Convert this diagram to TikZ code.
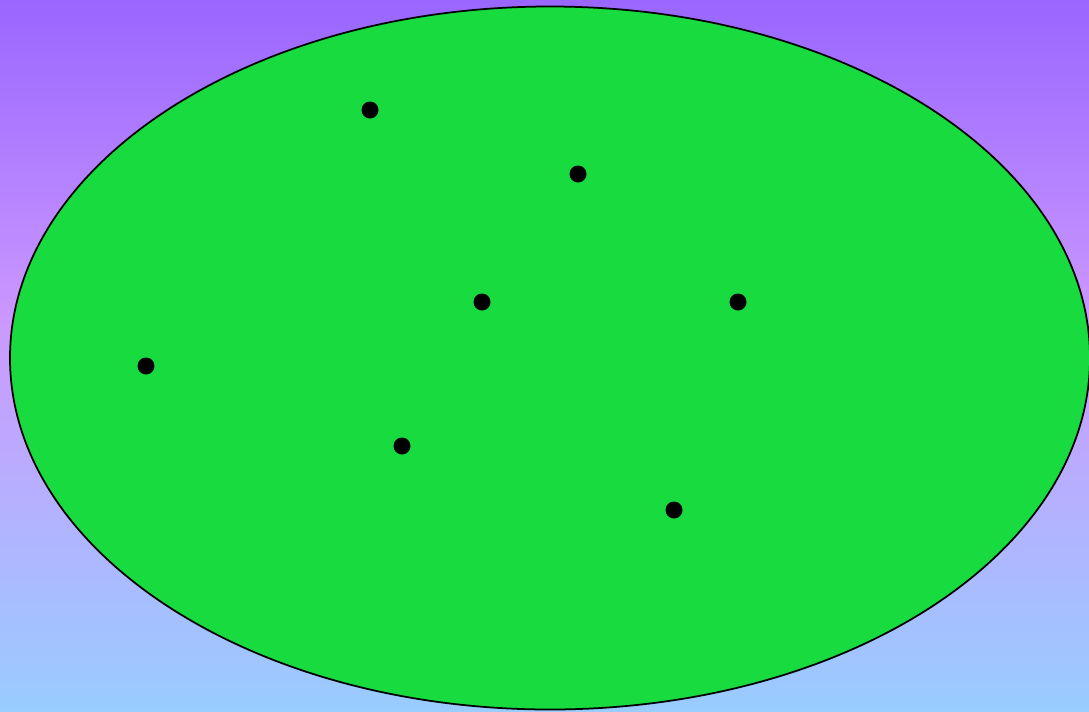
\documentclass[tikz,border=0pt]{standalone}
\usetikzlibrary{positioning}
\definecolor{skytop}{HTML}{9966FF}
\definecolor{skymid}{HTML}{CC99FF}
\definecolor{skybot}{HTML}{99CCFF}
\definecolor{field}{HTML}{18DC3F}
\pgfdeclareverticalshading{sky}{100bp}{color(0bp)=(skybot); color(25bp)=(skybot); color(52bp)=(skymid); color(75bp)=(skytop); color(100bp)=(skytop)}
\begin{document}
\begin{tikzpicture}[x=0.02cm, y=-0.02cm,
  pt/.style={circle, fill=black, inner sep=0pt, minimum size=0.34cm},
  region/.style={draw=black, line width=1pt, fill=field}
]
  \clip (0,0) rectangle (1089,711);
  \shade[shading=sky] (0,0) rectangle (1089,711);
  \draw[region] (550,358) ellipse [x radius=540, y radius=351.5];
  \foreach \n/\x/\y in {p1/370/110, p2/578/174, p3/482/302, p4/738/302, p5/146/366, p6/402/446, p7/674/510}
    {\node[pt] (\n) at (\x,\y) {};}
\end{tikzpicture}
\end{document}
